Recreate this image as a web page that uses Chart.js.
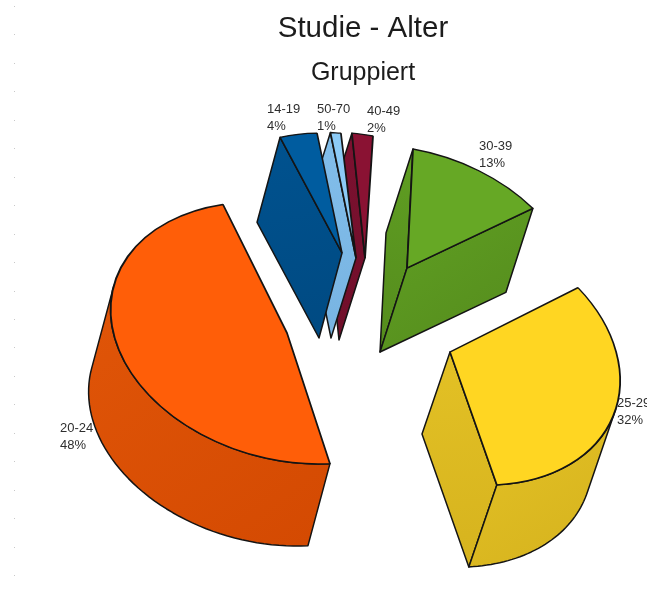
<!DOCTYPE html>
<html>
<head>
<meta charset="utf-8">
<title>Studie - Alter</title>
<script src="https://cdn.jsdelivr.net/npm/chart.js@4"></script>
<style>
  html, body { margin: 0; padding: 0; background: #fff; overflow: hidden; }
  #wrap { position: relative; width: 647px; height: 603px; }
</style>
</head>
<body>
<div id="wrap"><canvas id="pie" width="647" height="603"></canvas></div>
<script>
// Age groups and their share of the study, in percent
const ageGroups = ['14-19', '50-70', '40-49', '30-39', '25-29', '20-24'];
const shares = [4, 1, 2, 13, 32, 48];

// Face colours per slice
const topColours = ['#005C9F', '#8CCBF7', '#8A1233', '#66A825', '#FFD622', '#FF5E08'];
const wallLight = ['#00528F', '#82BEEA', '#7C1130', '#5F9E22', '#E3C125', '#E05508'];
const wallDark = ['#004A82', '#78B4E2', '#700F2A', '#558C1D', '#D6B31E', '#D44A02'];

// Top-left corner of each two-line slice caption
const captionAt = [[267, 109], [317, 109], [367, 111], [479, 146], [617, 403], [60, 428]];

// Back-to-front painting order of the slices
const paintOrder = [2, 3, 4, 5, 1, 0];

// Exploded perspective view: every slice has its own pivot on the page,
// its own image of the circle's axes and its own extrusion direction.
const pieRadius = 140;
const slicePivot = [[342, 253], [356, 258], [365, 258], [407, 268], [450, 352], [287, 333]];
const sliceAxisX = [[154, 21], [168, 30], [168, 30], [167, 30], [170, 33], [176, 32]];
const sliceAxisY = [[-4, 118], [-6, 122], [-8, 122], [-6, 119], [-6, 129], [-12, 127]];
const sliceDepth = [[-23, 85], [-25, 80], [-26, 82], [-27, 84], [-28, 82], [-22, 82]];

// Faint tick column along the left edge
const tickColumn = { x: 14, first: 6, step: 28.45, count: 21 };

function drawWall(ctx, rim, depth, index) {
  const xs = rim.map(p => p[0]);
  const ys = rim.map(p => p[1]);
  const grad = ctx.createLinearGradient(Math.min(...xs), Math.min(...ys),
    Math.max(...xs) + depth[0], Math.max(...ys) + depth[1]);
  grad.addColorStop(0, wallLight[index]);
  grad.addColorStop(1, wallDark[index]);
  ctx.beginPath();
  rim.forEach((p, i) => (i ? ctx.lineTo(p[0], p[1]) : ctx.moveTo(p[0], p[1])));
  for (let i = rim.length - 1; i >= 0; i--) {
    ctx.lineTo(rim[i][0] + depth[0], rim[i][1] + depth[1]);
  }
  ctx.closePath();
  ctx.fillStyle = grad;
  ctx.fill();
  ctx.strokeStyle = '#141414';
  ctx.lineWidth = 1.5;
  ctx.lineJoin = 'round';
  ctx.stroke();
}

function drawSlice(ctx, arc, index) {
  const c = slicePivot[index];
  const ax = sliceAxisX[index];
  const ay = sliceAxisY[index];
  const depth = sliceDepth[index];
  const project = angle => [
    c[0] + Math.cos(angle) * ax[0] + Math.sin(angle) * ay[0],
    c[1] + Math.cos(angle) * ax[1] + Math.sin(angle) * ay[1]
  ];
  // A rim edge walked clockwise faces the viewer when the extrusion leaves it outwards
  const faces = (p, q) => (q[1] - p[1]) * depth[0] - (q[0] - p[0]) * depth[1] > 0;

  const start = project(arc.startAngle);
  const end = project(arc.endAngle);

  // Straight cut faces
  if (faces(c, start)) drawWall(ctx, [c, start], depth, index);
  if (faces(end, c)) drawWall(ctx, [end, c], depth, index);

  // Rounded outer face: only the part turned towards the viewer
  const steps = 72;
  const run = [];
  for (let s = 0; s < steps; s++) {
    const p = project(arc.startAngle + (arc.endAngle - arc.startAngle) * s / steps);
    const q = project(arc.startAngle + (arc.endAngle - arc.startAngle) * (s + 1) / steps);
    if (faces(p, q)) {
      if (!run.length) run.push(p);
      run.push(q);
    }
  }
  if (run.length) drawWall(ctx, run, depth, index);

  // Top face comes from the arc element itself, under the tilt
  ctx.save();
  ctx.translate(c[0], c[1]);
  ctx.transform(ax[0] / pieRadius, ax[1] / pieRadius, ay[0] / pieRadius, ay[1] / pieRadius, 0, 0);
  ctx.translate(-arc.x, -arc.y);
  arc.draw(ctx);
  ctx.restore();
}

const tiltedPie = {
  id: 'tiltedPie',
  beforeDatasetsDraw(chart) {
    const ctx = chart.ctx;
    ctx.save();
    ctx.fillStyle = '#c8c8c8';
    for (let i = 0; i < tickColumn.count; i++) {
      ctx.fillRect(tickColumn.x, Math.round(tickColumn.first + i * tickColumn.step), 1, 1);
    }
    ctx.fillStyle = '#2e2e2e';
    ctx.font = '13px "Liberation Sans"';
    ctx.textBaseline = 'middle';
    ctx.textAlign = 'left';
    ageGroups.forEach((group, i) => {
      ctx.fillText(group, captionAt[i][0], captionAt[i][1]);
      ctx.fillText(shares[i] + '%', captionAt[i][0], captionAt[i][1] + 17);
    });
    ctx.restore();
  },
  beforeDatasetDraw(chart, args) {
    const arcs = chart.getDatasetMeta(args.index).data;
    paintOrder.forEach(i => drawSlice(chart.ctx, arcs[i], i));
    return false;
  }
};

new Chart(document.getElementById('pie'), {
  type: 'pie',
  data: {
    labels: ageGroups,
    datasets: [{
      data: shares,
      backgroundColor: topColours,
      borderColor: '#141414',
      borderWidth: 1.5,
      radius: pieRadius
    }]
  },
  options: {
    responsive: false,
    animation: false,
    events: [],
    rotation: -25.2,
    layout: { padding: { left: 79, top: 11 } },
    plugins: {
      legend: { display: false },
      tooltip: { enabled: false },
      title: {
        display: true,
        text: 'Studie - Alter',
        color: '#1c1c1c',
        font: { family: '"Liberation Sans"', size: 29.5, weight: 'normal' },
        padding: { top: 0, bottom: 12 }
      },
      subtitle: {
        display: true,
        text: 'Gruppiert',
        color: '#1c1c1c',
        font: { family: '"Liberation Sans"', size: 25, weight: 'normal' },
        padding: { top: 0, bottom: 10 }
      }
    }
  },
  plugins: [tiltedPie]
});
</script>
</body>
</html>
